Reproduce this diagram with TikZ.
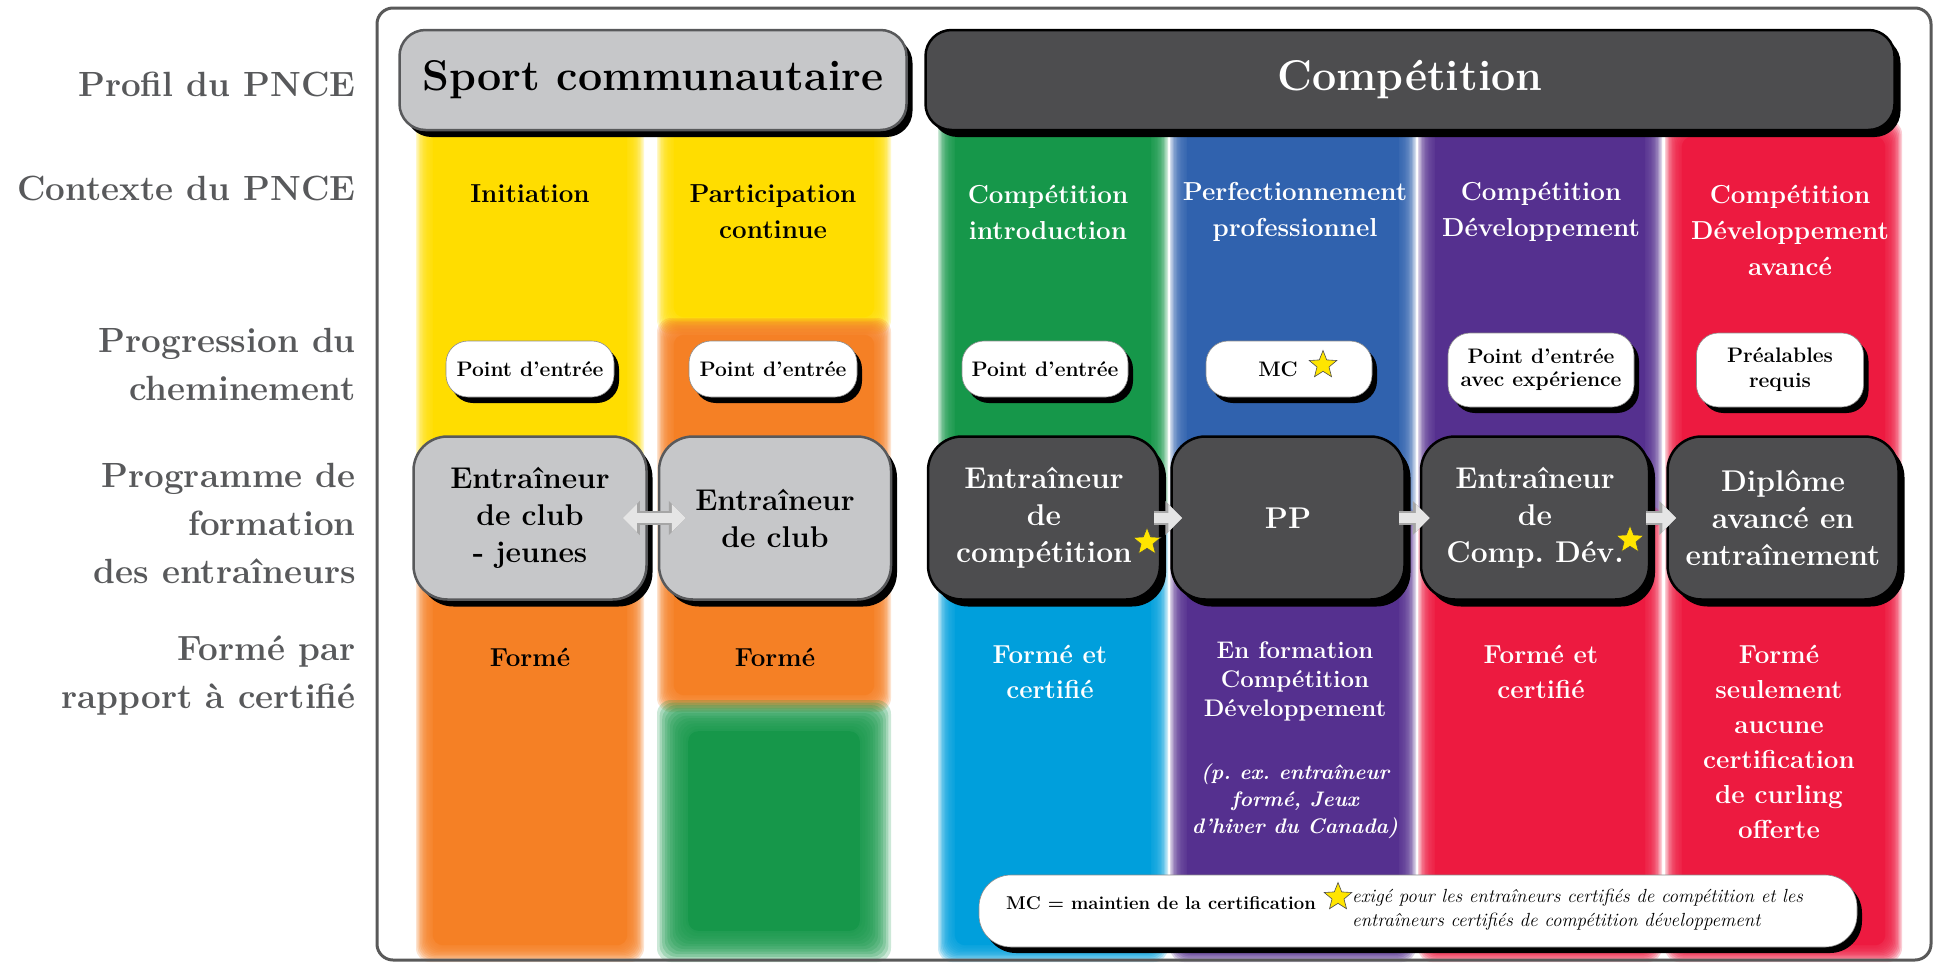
\documentclass[tikz,border=0pt]{standalone}
\usepackage{fontspec}
\usetikzlibrary{positioning,calc,shapes.geometric,shadows,arrows.meta}

\definecolor{pYellow}{HTML}{FFDD00}
\definecolor{pOrange}{HTML}{F58025}
\definecolor{pGreen}{HTML}{16974A}
\definecolor{pCyan}{HTML}{009FDC}
\definecolor{pBlue}{HTML}{3062AE}
\definecolor{pPurple}{HTML}{55308F}
\definecolor{pRed}{HTML}{ED1A40}
\definecolor{boxGray}{HTML}{C6C7C9}
\definecolor{boxDark}{HTML}{4D4D4F}
\definecolor{lblGray}{HTML}{58595B}
\definecolor{starYellow}{HTML}{FFE500}

% soft coloured column: x1, y1, x2, y2, colour, fade step
\newcommand{\colband}[6]{%
  \foreach \k in {0,...,11}{%
    \fill[#5, opacity=.22, rounded corners=14pt] ($(#1,#2)+(\k*#6,\k*#6)$) rectangle ($(#3,#4)-(\k*#6,\k*#6)$);
  }
  \fill[#5, rounded corners=10pt] ($(#1,#2)+(12*#6,12*#6)$) rectangle ($(#3,#4)-(12*#6,12*#6)$);
}

\begin{document}
\frenchspacing
\begin{tikzpicture}[x=1pt, y=-1pt]
	\tikzset{
		lbl/.style={anchor=east, align=right, text=lblGray, inner sep=0, font=\fontsize{35}{48}\selectfont\bfseries},
		hdr/.style={rectangle, rounded corners=26pt, line width=2.5pt, minimum height=100, inner sep=4pt,
			font=\fontsize{43}{48}\selectfont\bfseries,
			drop shadow={shadow xshift=6pt, shadow yshift=-7pt, fill=black, opacity=1}},
		ctxt/.style={align=center, inner sep=0, font=\fontsize{26}{36}\selectfont\bfseries},
		entry/.style={rectangle, rounded corners=22pt, fill=white, draw=black!45, line width=.6pt,
			minimum height=56, inner sep=2pt, align=center, font=\fontsize{21}{23}\selectfont\bfseries,
			drop shadow={shadow xshift=5pt, shadow yshift=-6pt, fill=black, opacity=1}},
		pgmgray/.style={rectangle, rounded corners=34pt, fill=boxGray, draw=lblGray, line width=2.5pt,
			minimum height=163, inner sep=2pt, align=center, font=\fontsize{30}{37}\selectfont\bfseries,
			drop shadow={shadow xshift=6pt, shadow yshift=-7pt, fill=black, opacity=1}},
		pgmdark/.style={pgmgray, fill=boxDark, draw=black, text=white},
		ftxt/.style={align=center, inner sep=0, font=\fontsize{26}{35}\selectfont\bfseries},
		italtxt/.style={align=center, inner sep=0, text=white, font=\fontsize{21}{27}\selectfont\bfseries\itshape},
		goldstar/.style={star, star points=5, star point ratio=2.3, minimum size=29, inner sep=0,
			fill=starYellow, draw=black!70, line width=.6pt},
		flowarrow/.style={preaction={draw=black!35, line width=14pt, -{Triangle[length=17pt,width=33pt]}},
			draw=black!10, line width=10pt, -{Triangle[length=14pt,width=27pt]}},
		flowarrowboth/.style={preaction={draw=black!35, line width=14pt, {Triangle[length=17pt,width=33pt]}-{Triangle[length=17pt,width=33pt]}},
			draw=black!10, line width=10pt, {Triangle[length=14pt,width=27pt]}-{Triangle[length=14pt,width=27pt]}}
	};
	\useasboundingbox (0,0) rectangle (1938,964);

	% coloured columns
	\colband{416}{100}{644}{530}{pYellow}{1.4}
	\colband{416}{500}{644}{962}{pOrange}{1.4}
	\colband{657}{100}{891}{334}{pYellow}{1.4}
	\colband{657}{318}{891}{712}{pOrange}{1.4}
	\colband{657}{700}{891}{962}{pGreen}{2.6}
	\colband{938}{100}{1168}{530}{pGreen}{1.4}
	\colband{938}{505}{1168}{962}{pCyan}{1.4}
	\colband{1170}{100}{1416}{530}{pBlue}{1.4}
	\colband{1170}{505}{1416}{962}{pPurple}{1.4}
	\colband{1418}{100}{1662}{530}{pPurple}{1.4}
	\colband{1418}{505}{1662}{962}{pRed}{1.4}
	\colband{1665}{120}{1902}{962}{pRed}{1.4}

	\draw[draw=black!65, line width=3pt, rounded corners=16pt] (377,8) rectangle (1931,960);

	% row labels
	\node[lbl] (prof) at (356,84) {Profil du PNCE};
	\node[lbl] (ctx) at (356,188) {Contexte du PNCE};
	\node[lbl] (prog) at (356,364) {Progression du\\cheminement};
	\node[lbl] (prgm) at (356,523) {Programme de\\formation\\des entraîneurs};
	\node[lbl] (frm) at (356,676) {Formé par\\rapport à certifié};

	% profiles
	\node[hdr, fill=boxGray, draw=lblGray, minimum width=507] (sport) at (653,80) {Sport communautaire};
	\node[hdr, fill=boxDark, draw=black, text=white, minimum width=969] (comp) at (1410,80) {Compétition};

	% contexts
	\node[ctxt] (init) at (530,194) {Initiation};
	\node[ctxt] (part) at (773,212) {Participation\\continue};
	\node[ctxt, text=white] (cintro) at (1048,212) {Compétition\\introduction};
	\node[ctxt, text=white] (perf) at (1295,212) {Perfectionnement\\professionnel};
	\node[ctxt, text=white] (cdev) at (1541,212) {Compétition\\Développement};
	\node[ctxt, text=white] (cdeva) at (1790,230) {Compétition\\Développement\\avancé};

	% entry points
	\node[entry, minimum width=168] (pe1) at (530,369) {Point d’entrée};
	\node[entry, minimum width=168] (pe2) at (773,369) {Point d’entrée};
	\node[entry, minimum width=166] (pe3) at (1045,369) {Point d’entrée};
	\node[entry, minimum width=166] (mc) at (1289,369) {MC\hspace*{22pt}};
	\node[entry, minimum width=186, minimum height=74] (pe5) at (1541,370) {Point d’entrée\\avec expérience};
	\node[entry, minimum width=167, minimum height=74, font=\fontsize{21}{25}\selectfont\bfseries] (pre) at (1780,370) {Préalables\\requis};

	% coach programmes
	\node[pgmgray, minimum width=233] (cj) at (530,518) {Entraîneur\\de club\\- jeunes};
	\node[pgmgray, minimum width=232] (cc) at (775,518) {Entraîneur\\de club};
	\node[pgmdark, minimum width=232] (ec) at (1044,518) {Entraîneur\\de\\compétition};
	\node[pgmdark, minimum width=233] (pp) at (1288,518) {PP};
	\node[pgmdark, minimum width=228] (ecd) at (1535,518) {Entraîneur\\de\\Comp. Dév.};
	\node[pgmdark, minimum width=231] (dae) at (1783,518) {Diplôme\\avancé en\\entraînement};

	\draw[flowarrowboth, shorten <=-25pt, shorten >=-28pt] (cj) -- (cc);
	\draw[flowarrow, shorten <=-7pt, shorten >=-12pt] (ec) -- (pp);
	\draw[flowarrow, shorten <=-7pt, shorten >=-10pt] (pp) -- (ecd);
	\draw[flowarrow, shorten <=-4pt, shorten >=-10pt] (ecd) -- (dae);

	\node[goldstar] (s1) at (1147,542) {};
	\node[goldstar] (s2) at (1323,365) {};
	\node[goldstar] (s3) at (1630,540) {};

	% trained vs certified
	\node[ftxt] (fo1) at (530,657) {Formé};
	\node[ftxt] (fo2) at (775,657) {Formé};
	\node[ftxt, text=white] (fc3) at (1050,672) {Formé et\\certifié};
	\node[ftxt, text=white, font=\fontsize{24}{29}\selectfont\bfseries] (ef4) at (1295,681) {En formation\\Compétition\\Développement};
	\node[italtxt] (ex4) at (1295,801) {(p. ex. entraîneur\\formé, Jeux\\d’hiver du Canada)};
	\node[ftxt, text=white] (fc5) at (1541,672) {Formé et\\certifié};
	\node[ftxt, text=white] (fs6) at (1779,742) {Formé\\seulement\\aucune\\certification\\de curling\\offerte};

	% legend
	\node[entry, minimum width=878, minimum height=72, rounded corners=32pt] (legend) at (1418,911) {};
	\node[anchor=west, inner sep=0, font=\fontsize{18.5}{22}\selectfont\bfseries] (mcdef) at (1006,903) {MC = maintien de la certification};
	\node[goldstar] (s4) at (1338,897) {};
	\node[anchor=west, align=left, inner sep=0, font=\fontsize{19}{24}\selectfont\itshape] (exig) at (1352,910) {exigé pour les entraîneurs certifiés de compétition et les\\entraîneurs certifiés de compétition développement};
\end{tikzpicture}
\end{document}
